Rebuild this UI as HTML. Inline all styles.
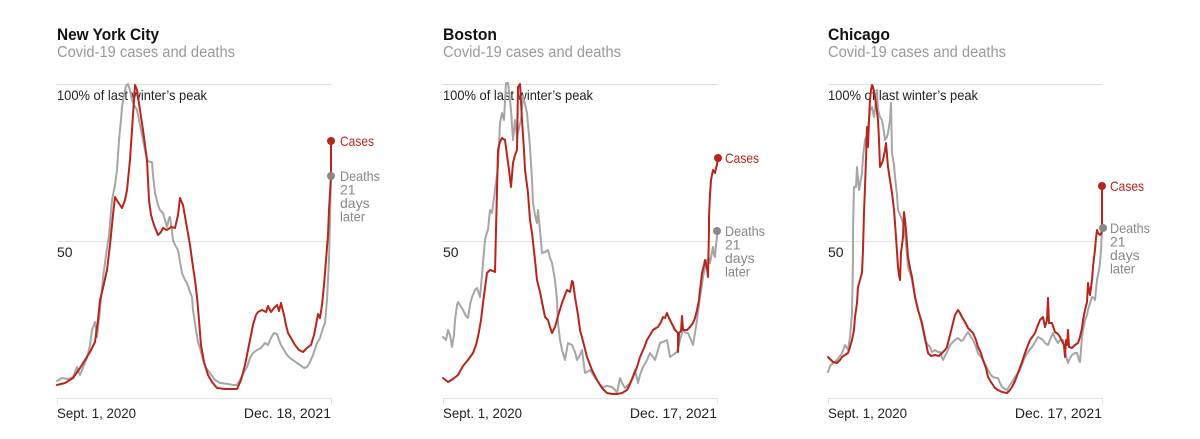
<!DOCTYPE html>
<html>
<head>
<meta charset="utf-8">
<style>
html,body{margin:0;padding:0;background:#fff;}
svg{display:block;}
text{font-family:"Liberation Sans",sans-serif;}
</style>
</head>
<body>
<svg width="1200" height="439" viewBox="0 0 1200 439" xmlns="http://www.w3.org/2000/svg">
<g fill="none" stroke-linejoin="round" stroke-linecap="round">
<g stroke="#e2e2e2" stroke-width="1">
<line x1="57" y1="84.5" x2="331" y2="84.5"/><line x1="57" y1="241.5" x2="331" y2="241.5"/><line x1="57" y1="398.5" x2="331" y2="398.5"/>
<line x1="57.5" y1="398" x2="57.5" y2="404"/><line x1="331.5" y1="398" x2="331.5" y2="404"/>
<line x1="443" y1="84.5" x2="717" y2="84.5"/><line x1="443" y1="241.5" x2="717" y2="241.5"/><line x1="443" y1="398.5" x2="717" y2="398.5"/>
<line x1="443.5" y1="398" x2="443.5" y2="404"/><line x1="717.5" y1="398" x2="717.5" y2="404"/>
<line x1="828" y1="84.5" x2="1102" y2="84.5"/><line x1="828" y1="241.5" x2="1102" y2="241.5"/><line x1="828" y1="398.5" x2="1102" y2="398.5"/>
<line x1="828.5" y1="398" x2="828.5" y2="404"/><line x1="1102.5" y1="398" x2="1102.5" y2="404"/>
</g>
</g>

<g>
<text x="57" y="40" font-size="17" font-weight="bold" fill="#121212" textLength="102" lengthAdjust="spacingAndGlyphs">New York City</text>
<text x="57" y="57" font-size="15.5" fill="#999" textLength="178" lengthAdjust="spacingAndGlyphs">Covid-19 cases and deaths</text>
<text x="443" y="40" font-size="17" font-weight="bold" fill="#121212" textLength="54" lengthAdjust="spacingAndGlyphs">Boston</text>
<text x="443" y="57" font-size="15.5" fill="#999" textLength="178" lengthAdjust="spacingAndGlyphs">Covid-19 cases and deaths</text>
<text x="828" y="40" font-size="17" font-weight="bold" fill="#121212" textLength="62" lengthAdjust="spacingAndGlyphs">Chicago</text>
<text x="828" y="57" font-size="15.5" fill="#999" textLength="178" lengthAdjust="spacingAndGlyphs">Covid-19 cases and deaths</text>
</g>

<g font-size="14" fill="#222">
<text x="57" y="100" textLength="150" lengthAdjust="spacingAndGlyphs">100% of last winter’s peak</text>
<text x="57" y="257">50</text>
<text x="57" y="418" textLength="79" lengthAdjust="spacingAndGlyphs">Sept. 1, 2020</text>
<text x="331" y="418" text-anchor="end">Dec. 18, 2021</text>

<text x="443" y="100" textLength="150" lengthAdjust="spacingAndGlyphs">100% of last winter’s peak</text>
<text x="443" y="257">50</text>
<text x="443" y="418" textLength="79" lengthAdjust="spacingAndGlyphs">Sept. 1, 2020</text>
<text x="717" y="418" text-anchor="end">Dec. 17, 2021</text>

<text x="828" y="100" textLength="150" lengthAdjust="spacingAndGlyphs">100% of last winter’s peak</text>
<text x="828" y="257">50</text>
<text x="828" y="418" textLength="79" lengthAdjust="spacingAndGlyphs">Sept. 1, 2020</text>
<text x="1102" y="418" text-anchor="end">Dec. 17, 2021</text>
</g>

<g fill="none" stroke-linejoin="round" stroke-linecap="round" stroke-width="2">
<polyline stroke="#a6a6a6" points="57,381 62,378 68,379 73,377 77,367 80,375 84,365 87,358 90,345 92,330 95,322 97,337 100,310 103,278 106,255 109,235 112,200 115,185 117,170 119,140 121,120 122,107 124,95 126,86 128,84 130,90 132,100 134,105 137,110 140,125 143,140 145,150 147,160 150,162 152,162 153,175 155,193 158,205 160,210 163,213 165,220 167,227 169,218 170,217 172,232 173,240 175,245 178,250 180,262 182,273 185,280 187,283 190,292 192,297 193,310 196,330 198,342 200,348 203,360 206,368 210,373 215,380 220,383 228,384 233,385 237,385 240,380 244,372 247,367 250,358 253,353 257,350 261,348 265,343 268,345 271,338 274,333 277,334 279,340 281,345 284,350 287,355 290,358 293,360 297,363 300,365 304,368 307,367 310,362 313,355 317,343 320,338 323,328 325,323 327,300 329,260 330,220 331,176"/>
<polyline stroke="#b8251b" points="57,385 65,383 73,378 80,368 85,360 90,352 95,342 98,320 100,300 103,288 107,270 110,245 113,215 115,197 118,202 122,208 125,200 127,190 130,160 132,130 134,100 135,85 137,90 140,110 143,130 145,145 147,160 149,200 151,215 154,225 158,235 161,232 163,228 167,230 171,227 175,228 178,215 180,198 183,205 187,228 190,245 193,267 195,280 197,297 199,320 201,345 204,362 208,375 212,382 217,388 225,389 232,389 237,389 241,380 245,365 249,345 253,325 256,315 258,312 262,310 266,312 268,306 271,312 274,308 277,305 279,311 281,303 284,315 286,325 288,333 291,338 295,345 299,350 303,352 307,348 311,345 314,335 316,325 318,314 320,318 322,305 324,285 326,260 328,235 329,210 331,176 331,141"/>

<polyline stroke="#a6a6a6" points="443,337 446,340 448,330 450,335 452,347 454,335 455,320 457,305 458,302 460,305 463,310 466,316 468,318 470,305 472,297 475,290 477,288 480,297 482,275 483,263 485,240 487,232 488,230 490,210 492,213 494,198 495,190 497,175 498,167 500,123 502,113 504,120 506,83 508,83 510,100 511,110 513,140 515,120 517,137 519,128 521,120 523,97 525,104 527,113 530,147 532,180 533,203 535,215 537,223 538,210 540,230 542,253 545,252 548,250 550,258 552,263 555,280 557,300 558,323 560,340 562,350 565,360 568,343 570,344 572,345 575,352 577,360 580,355 582,350 585,373 587,372 590,370 594,376 597,380 600,385 603,387 607,386 612,387 615,390 617,393 620,378 622,383 625,388 628,385 630,383 633,376 635,370 638,383 640,375 643,367 647,360 650,353 653,357 655,360 658,350 660,343 663,342 667,340 670,357 674,354 677,352 680,340 683,330 686,333 688,333 691,340 693,345 695,333 697,320 700,297 702,285 703,277 705,268 707,260 709,258 710,263 712,252 713,247 714,255 715,257 716,245 717,237 717,231"/>
<polyline stroke="#b8251b" points="443,378 448,382 453,379 458,375 463,366 468,360 473,353 476,345 478,337 481,320 483,303 485,288 487,273 490,270 493,271 495,272 496,230 497,190 498,150 500,142 502,138 505,140 507,155 509,170 511,187 513,163 515,155 517,150 518,87 520,84 522,120 524,150 525,170 527,185 528,193 530,220 532,233 535,260 537,280 540,292 542,302 545,317 548,320 550,327 552,333 555,327 558,316 562,303 565,295 567,290 570,292 572,281 573,282 575,297 578,315 580,330 584,345 587,357 592,370 597,380 602,388 607,393 612,394 617,394 622,393 627,390 630,384 633,377 637,367 640,357 644,348 647,340 650,335 653,330 656,328 658,327 661,322 663,317 665,318 667,313 669,318 671,322 673,326 675,330 678,333 678,352 679,333 681,331 682,316 683,330 687,330 690,327 693,323 695,318 697,310 699,300 700,290 701,282 702,273 704,265 705,260 707,268 708,277 709,230 709,217 710,195 711,180 713,170 715,173 716,168 717,165 718,158"/>

<polyline stroke="#a6a6a6" points="828,372 830,366 833,363 835,362 837,360 840,356 842,353 845,345 848,350 850,337 852,313 853,260 853,230 854,187 856,187 857,167 859,190 860,185 862,173 863,157 865,140 867,135 868,130 870,110 872,107 874,117 876,100 877,90 878,110 880,117 882,120 884,132 885,140 887,137 888,133 890,120 891,103 892,153 894,165 895,177 897,195 898,210 901,217 903,223 905,235 906,243 908,267 910,273 912,280 915,297 917,305 920,317 922,325 925,340 928,345 930,347 932,352 935,350 938,352 940,352 943,360 946,354 948,350 950,345 953,342 955,340 958,338 961,341 963,340 966,335 968,332 971,337 973,340 976,347 978,353 981,357 983,360 986,366 988,370 991,375 993,377 996,378 998,378 1000,383 1002,387 1005,389 1007,390 1010,385 1012,382 1015,377 1018,373 1020,370 1023,362 1025,357 1028,352 1032,347 1035,342 1038,337 1040,338 1043,340 1045,343 1048,345 1050,340 1053,333 1055,338 1058,343 1060,340 1063,340 1065,352 1068,363 1070,358 1072,355 1075,353 1077,353 1079,360 1080,362 1082,337 1084,325 1085,320 1087,315 1088,310 1090,303 1092,297 1094,298 1095,300 1097,280 1099,270 1100,263 1101,250 1102,230 1103,228"/>
<polyline stroke="#b8251b" points="828,357 831,360 833,362 837,363 840,360 842,357 845,355 848,353 850,347 852,340 854,330 855,317 857,303 858,287 860,280 862,273 863,250 864,213 866,160 867,127 868,147 869,120 870,100 871,90 872,85 873,87 875,97 877,112 878,120 879,140 880,167 882,163 883,160 885,150 886,143 887,155 888,167 890,180 892,193 894,210 895,223 896,237 898,267 899,275 900,280 901,253 903,237 904,212 905,220 906,230 908,257 910,268 912,277 915,297 918,310 922,323 925,338 928,353 931,356 935,355 939,356 942,353 945,350 947,347 950,335 952,327 955,315 958,310 960,313 962,317 965,322 968,328 970,330 973,333 976,340 978,347 981,353 983,360 986,368 988,377 991,382 995,388 998,390 1002,392 1007,393 1010,390 1012,387 1015,381 1018,373 1022,362 1025,353 1028,345 1030,340 1033,336 1035,333 1038,325 1040,320 1043,317 1045,327 1047,320 1048,298 1049,323 1052,323 1055,332 1058,334 1060,337 1063,343 1064,345 1065,357 1066,340 1067,345 1068,330 1069,347 1072,348 1075,345 1078,343 1080,337 1082,328 1083,320 1085,310 1087,302 1088,283 1089,290 1090,295 1092,280 1093,267 1094,258 1095,250 1096,238 1097,230 1098,233 1100,235 1101,234 1102,230 1102,186"/>
</g>

<g>
<circle cx="331" cy="176" r="4" fill="#888"/>
<circle cx="331" cy="141" r="4" fill="#b8251b"/>
<circle cx="717" cy="231" r="4" fill="#888"/>
<circle cx="718" cy="158" r="4" fill="#b8251b"/>
<circle cx="1103" cy="228" r="4" fill="#888"/>
<circle cx="1102" cy="186" r="4" fill="#b8251b"/>
</g>

<g font-size="14">
<text x="340" y="146" fill="#b8251b" textLength="34" lengthAdjust="spacingAndGlyphs">Cases</text>
<g fill="#888">
<text x="340" y="181" textLength="40" lengthAdjust="spacingAndGlyphs">Deaths</text>
<text x="340" y="194.5">21</text>
<text x="340" y="208">days</text>
<text x="340" y="221.5" textLength="25" lengthAdjust="spacingAndGlyphs">later</text>
</g>
<text x="725" y="163" fill="#b8251b" textLength="34" lengthAdjust="spacingAndGlyphs">Cases</text>
<g fill="#888">
<text x="725" y="236" textLength="40" lengthAdjust="spacingAndGlyphs">Deaths</text>
<text x="725" y="249.5">21</text>
<text x="725" y="263">days</text>
<text x="725" y="276.5" textLength="25" lengthAdjust="spacingAndGlyphs">later</text>
</g>
<text x="1110" y="191" fill="#b8251b" textLength="34" lengthAdjust="spacingAndGlyphs">Cases</text>
<g fill="#888">
<text x="1110" y="233" textLength="40" lengthAdjust="spacingAndGlyphs">Deaths</text>
<text x="1110" y="246.5">21</text>
<text x="1110" y="260">days</text>
<text x="1110" y="273.5" textLength="25" lengthAdjust="spacingAndGlyphs">later</text>
</g>
</g>
</svg>
</body>
</html>
